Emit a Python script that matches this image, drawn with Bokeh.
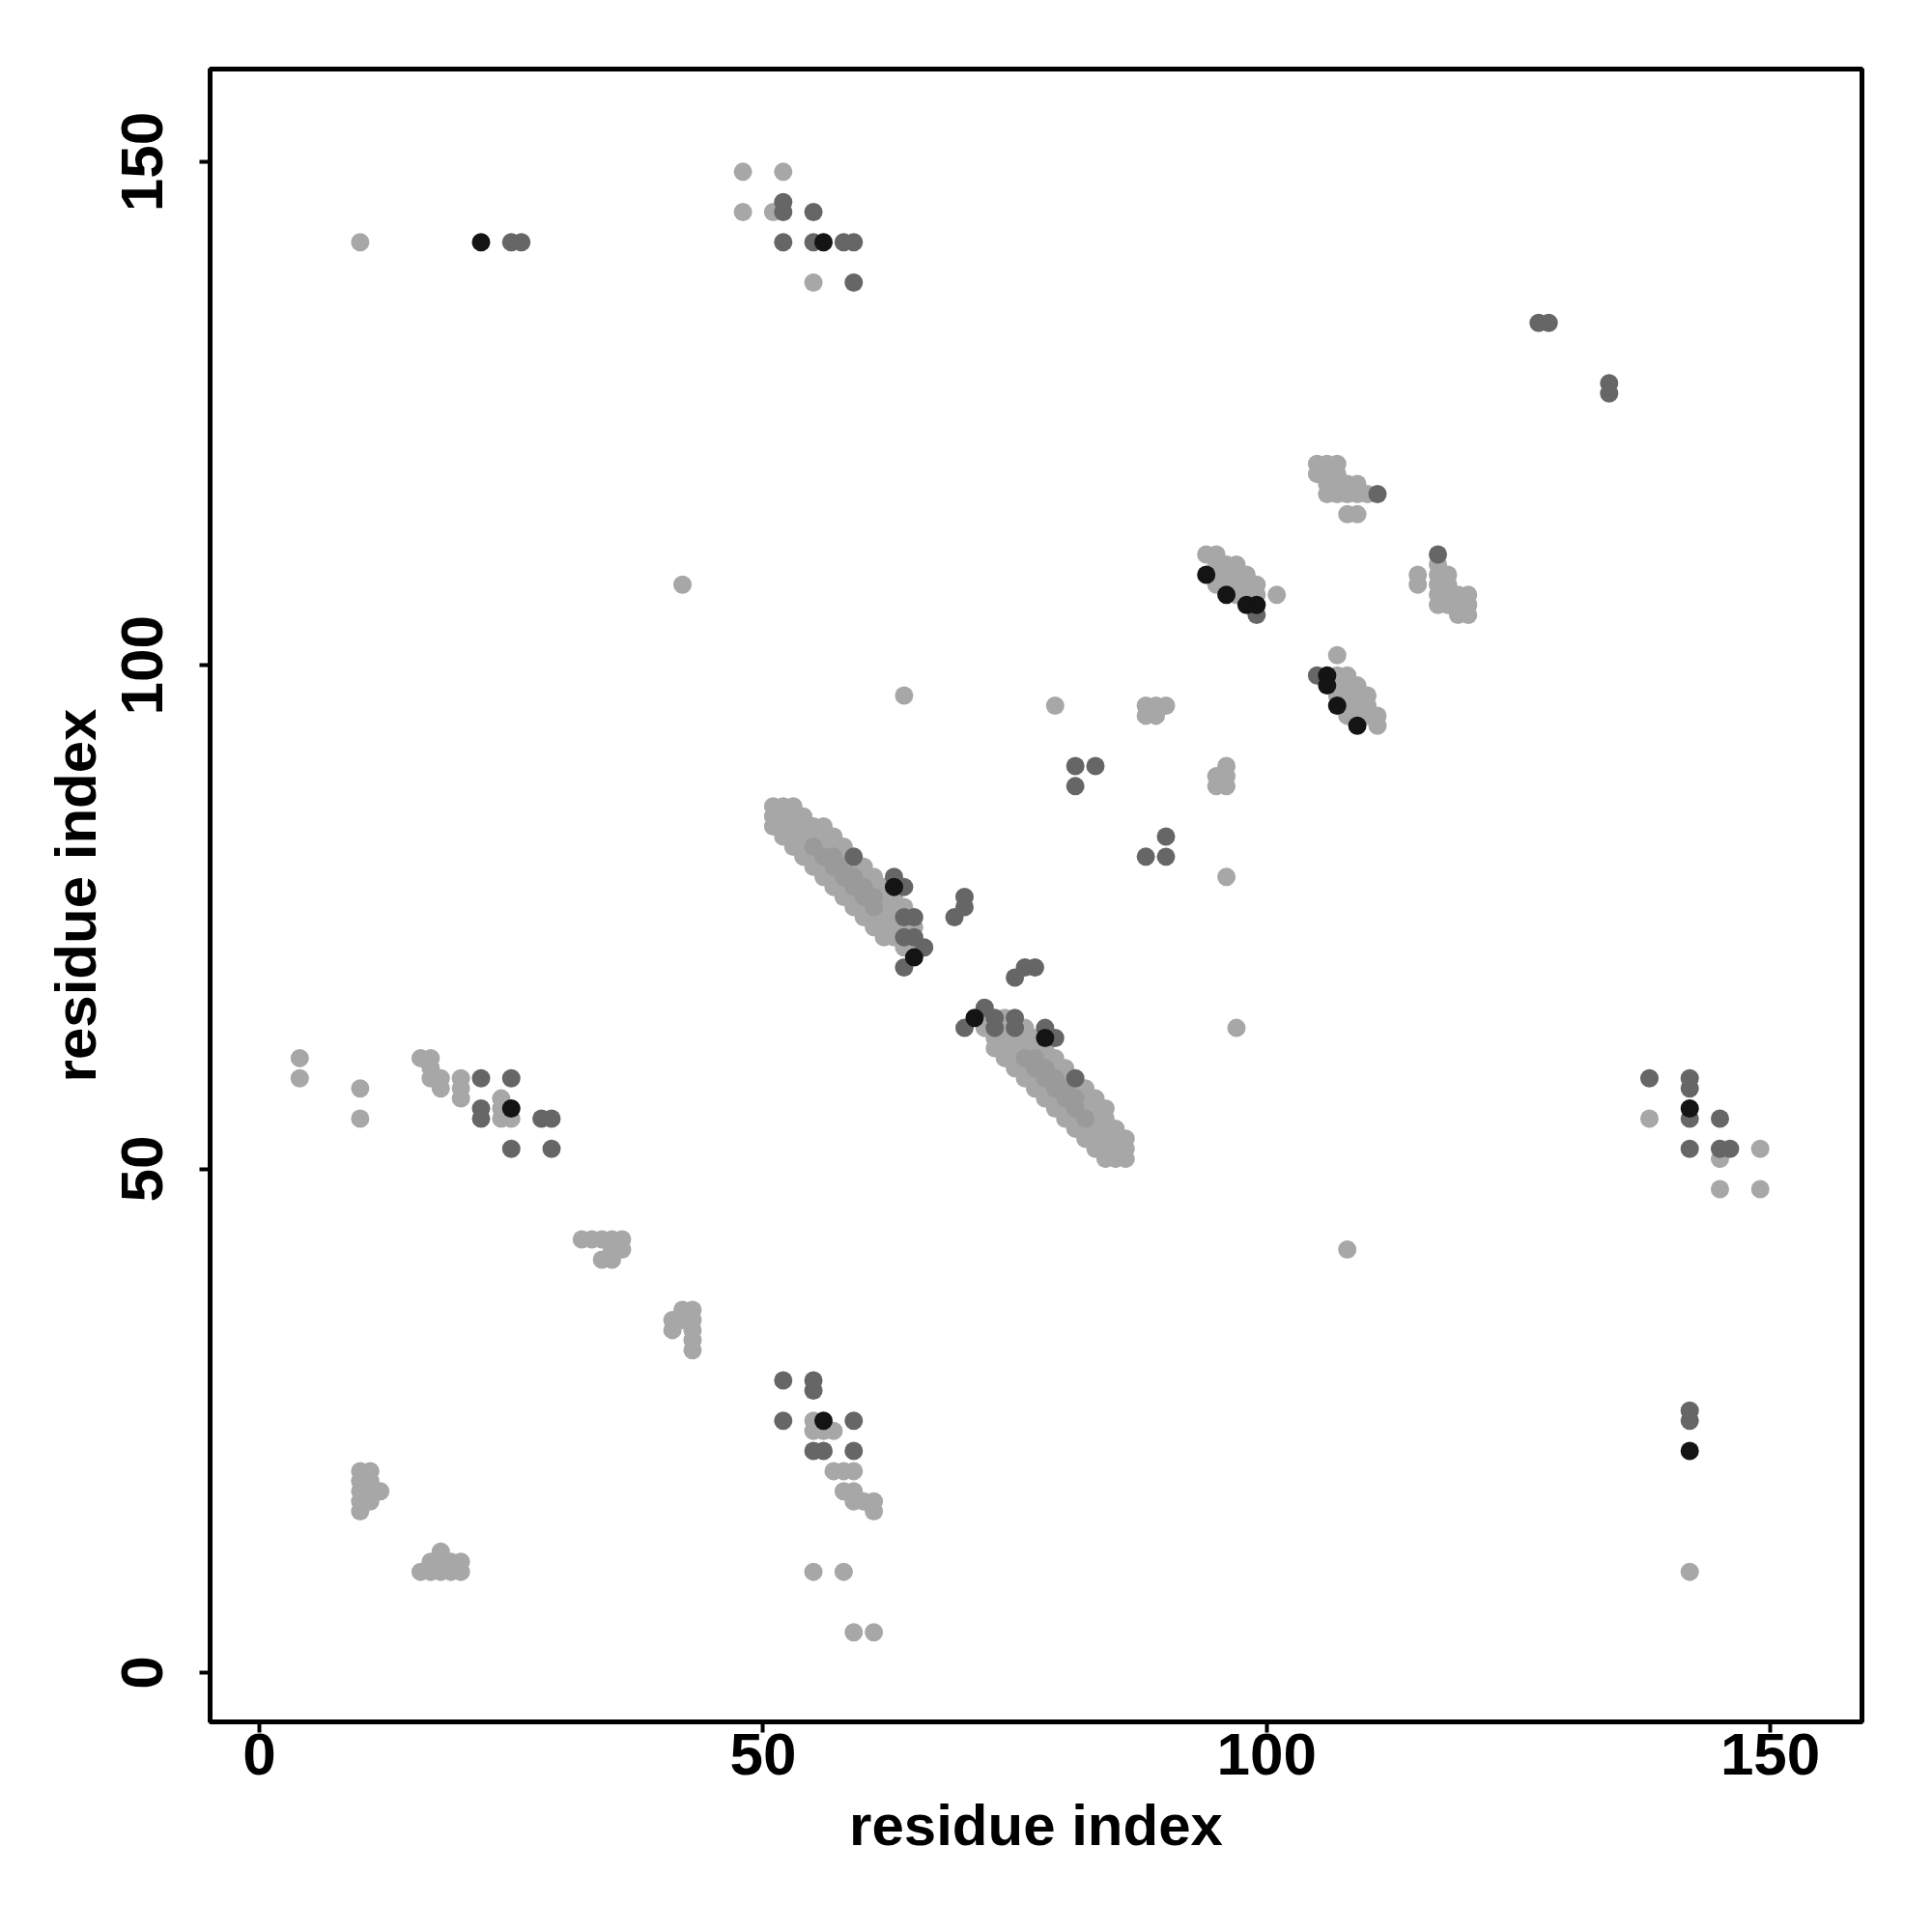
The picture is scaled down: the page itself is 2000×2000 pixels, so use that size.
from bokeh.plotting import figure
from bokeh.models import Range1d, FixedTicker
from bokeh.embed import file_html
from bokeh.resources import INLINE

# ---- data: contact points (residue i, residue j), grouped by shade ----
light_pts = [
    (10, 142), (48, 149), (52, 149), (48, 145), (51, 145), (55, 138),
    (138, 55), (145, 51), (149, 52), (145, 48), (149, 48), (142, 10),
    (105, 120), (106, 120), (107, 120), (105, 119), (106, 119), (107, 119),
    (106, 118), (107, 118), (108, 118), (109, 118), (106, 117), (107, 117),
    (108, 117), (109, 117), (110, 117), (108, 115), (109, 115),
    (120, 105), (120, 106), (120, 107), (119, 105), (119, 106), (119, 107),
    (118, 106), (118, 107), (118, 108), (118, 109), (117, 106), (117, 107),
    (117, 108), (117, 109), (117, 110), (115, 108), (115, 109),
    (107, 101), (107, 99), (107, 98), (107, 97), (108, 99), (108, 98), (108, 97),
    (108, 96), (108, 95), (109, 98), (109, 97), (109, 96), (109, 95), (110, 97),
    (110, 96), (110, 95), (111, 95), (111, 94),
    (101, 107), (99, 107), (98, 107), (97, 107), (99, 108), (98, 108), (97, 108),
    (96, 108), (95, 108), (98, 109), (97, 109), (96, 109), (95, 109), (97, 110),
    (96, 110), (95, 110), (95, 111), (94, 111),
    (42, 108), (108, 42), (64, 97), (97, 64), (79, 96), (96, 79),
    (88, 96), (89, 96), (90, 96), (88, 95), (89, 95),
    (96, 88), (96, 89), (96, 90), (95, 88), (95, 89),
    (4, 61), (4, 59), (10, 58), (10, 55), (16, 61), (17, 61), (17, 60), (17, 59),
    (18, 59), (18, 58), (20, 59), (20, 58), (20, 57), (24, 57), (24, 56), (24, 55),
    (25, 55),
    (61, 4), (59, 4), (58, 10), (55, 10), (61, 16), (61, 17), (60, 17), (59, 17),
    (59, 18), (58, 18), (59, 20), (58, 20), (57, 20), (57, 24), (56, 24), (55, 24),
    (55, 25),
    (32, 43), (33, 43), (34, 43), (35, 43), (36, 43), (35, 42), (36, 42), (34, 41), (35, 41),
    (43, 32), (43, 33), (43, 34), (43, 35), (43, 36), (42, 35), (42, 36), (41, 34), (41, 35),
    (16, 10), (17, 10), (18, 10), (19, 10), (20, 10), (17, 11), (18, 11), (19, 11), (20, 11), (18, 12),
    (10, 16), (10, 17), (10, 18), (10, 19), (10, 20), (11, 17), (11, 18), (11, 19), (11, 20), (12, 18),
    (65, 72), (72, 65),
]

band_light_pts = [
    (86, 51), (86, 52), (86, 53), (85, 51), (85, 52), (85, 53), (85, 54),
    (84, 51), (84, 52), (84, 53), (84, 54), (84, 55), (84, 56),
    (83, 52), (83, 53), (83, 54), (83, 55), (83, 56), (83, 57),
    (82, 53), (82, 54), (82, 56), (82, 57), (82, 58),
    (81, 54), (81, 55), (81, 58), (80, 55), (80, 56), (80, 59), (80, 60),
    (79, 56), (79, 57), (79, 60), (79, 61), (78, 57), (78, 58), (78, 61), (78, 62),
    (77, 58), (77, 59), (77, 62), (77, 63), (76, 59), (76, 60), (76, 62), (76, 63), (76, 64),
    (75, 60), (75, 61), (75, 62), (75, 63),
    (74, 61), (74, 62), (74, 63), (74, 64), (74, 65), (73, 62), (73, 63), (72, 64),
    (51, 86), (52, 86), (53, 86), (51, 85), (52, 85), (53, 85), (54, 85),
    (51, 84), (52, 84), (53, 84), (54, 84), (55, 84), (56, 84),
    (52, 83), (53, 83), (54, 83), (55, 83), (56, 83), (57, 83),
    (53, 82), (54, 82), (56, 82), (57, 82), (58, 82),
    (54, 81), (55, 81), (58, 81), (55, 80), (56, 80), (59, 80), (60, 80),
    (56, 79), (57, 79), (60, 79), (61, 79), (57, 78), (58, 78), (61, 78), (62, 78),
    (58, 77), (59, 77), (62, 77), (63, 77), (59, 76), (60, 76), (62, 76), (63, 76), (64, 76),
    (60, 75), (61, 75), (62, 75), (63, 75),
    (61, 74), (62, 74), (63, 74), (64, 74), (65, 74), (62, 73), (63, 73), (64, 72),
]

band_mid_pts = [
    (76, 61), (77, 60), (78, 59), (79, 58), (80, 57), (81, 56), (82, 55),
    (77, 61), (78, 60), (79, 59), (80, 58), (81, 57),
    (61, 76), (60, 77), (59, 78), (58, 79), (57, 80), (56, 81), (55, 82),
    (61, 77), (60, 78), (59, 79), (58, 80), (57, 81),
]

dark_pts = [
    (25, 142), (26, 142), (52, 146), (52, 145), (55, 145), (52, 142), (55, 142),
    (58, 142), (59, 142), (59, 138),
    (142, 25), (142, 26), (146, 52), (145, 52), (145, 55), (142, 52), (142, 55),
    (142, 58), (142, 59), (138, 59),
    (111, 117), (117, 111), (105, 99), (99, 105),
    (81, 90), (83, 90), (81, 88), (90, 81), (90, 83), (88, 81),
    (127, 134), (128, 134), (134, 128), (134, 127),
    (22, 59), (22, 56), (22, 55), (25, 59), (28, 55), (29, 55), (25, 52), (29, 52),
    (59, 22), (56, 22), (55, 22), (59, 25), (55, 28), (55, 29), (52, 25), (52, 29),
    (59, 81), (63, 79), (64, 78), (64, 75), (65, 75), (64, 73), (65, 73), (66, 72),
    (64, 70), (69, 75), (70, 76), (70, 77),
    (81, 59), (79, 63), (78, 64), (75, 64), (75, 65), (73, 64), (73, 65), (72, 66),
    (70, 64), (75, 69), (76, 70), (77, 70),
]

black_pts = [
    (22, 142), (56, 142), (142, 22), (142, 56),
    (106, 99), (106, 98), (107, 96), (109, 94),
    (99, 106), (98, 106), (96, 107), (94, 109),
    (25, 56), (56, 25),
    (63, 78), (65, 71), (78, 63), (71, 65),
]

x_ticks = [0, 50, 100, 150]
y_ticks = [0, 50, 100, 150]
x_title = "residue index"
y_title = "residue index"

# ---- figure ----
p = figure(frame_width=1710, frame_height=1711,
           x_range=Range1d(-4.9, 159.1), y_range=Range1d(-4.9, 159.2),
           output_backend="svg", toolbar_location=None,
           min_border_left=217, min_border_right=60,
           min_border_top=71, min_border_bottom=195)
p.background_fill_color = "white"
p.border_fill_color = "white"
p.xgrid.visible = False
p.ygrid.visible = False
p.outline_line_color = "black"
p.outline_line_width = 5

def draw(pts, color):
    xs = [a for a, b in pts]
    ys = [b for a, b in pts]
    p.scatter(xs, ys, size=19, fill_color=color, line_color=None)

draw(light_pts, "#a7a7a7")
draw(band_light_pts, "#a7a7a7")
draw(band_mid_pts, "#9a9a9a")
draw(dark_pts, "#666666")
draw(black_pts, "#141414")

FONT = "Liberation Sans"
for ax in (p.xaxis[0], p.yaxis[0]):
    ax.axis_line_color = None
    ax.major_tick_line_color = "black"
    ax.major_tick_line_width = 4
    ax.major_tick_in = 0
    ax.major_tick_out = 11
    ax.minor_tick_line_color = None
    ax.major_label_text_font = FONT
    ax.major_label_text_font_style = "bold"
    ax.major_label_text_font_size = "62px"
    ax.major_label_text_color = "black"
    ax.axis_label_text_font = FONT
    ax.axis_label_text_font_style = "bold"
    ax.axis_label_text_font_size = "60px"
    ax.axis_label_text_color = "black"

p.xaxis[0].ticker = FixedTicker(ticks=x_ticks)
p.yaxis[0].ticker = FixedTicker(ticks=y_ticks)
p.xaxis[0].axis_label = x_title
p.yaxis[0].axis_label = y_title
p.xaxis[0].major_label_standoff = 1
p.xaxis[0].axis_label_standoff = 16
p.yaxis[0].major_label_orientation = "vertical"
p.yaxis[0].major_label_standoff = 38
p.yaxis[0].axis_label_standoff = 12

open("out.html", "w").write(file_html(p, INLINE))
